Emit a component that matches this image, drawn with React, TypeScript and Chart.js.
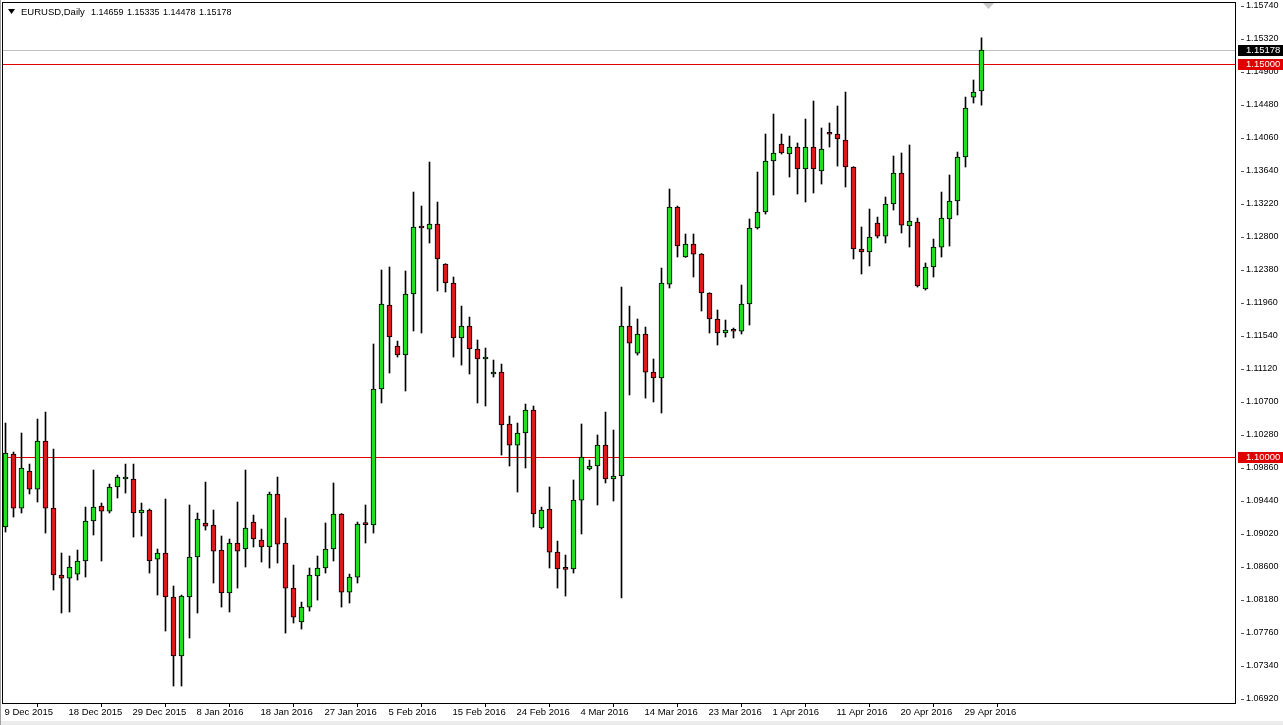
import React, { useEffect, useRef } from "react";
import { Chart, registerables } from "chart.js";

Chart.register(...registerables);

const symbolTitle = "EURUSD,Daily";

const dateTickLabels = [
  "9 Dec 2015", "18 Dec 2015", "29 Dec 2015", "8 Jan 2016", "18 Jan 2016", "27 Jan 2016",
  "5 Feb 2016", "15 Feb 2016", "24 Feb 2016", "4 Mar 2016", "14 Mar 2016", "23 Mar 2016",
  "1 Apr 2016", "11 Apr 2016", "20 Apr 2016", "29 Apr 2016",
];
const barsPerDateTick = 8;

const priceTicks = [
  1.0692, 1.0734, 1.0776, 1.0818, 1.086, 1.0902, 1.0944, 1.0986, 1.1028, 1.107, 1.1112,
  1.1154, 1.1196, 1.1238, 1.128, 1.1322, 1.1364, 1.1406, 1.1448, 1.149, 1.1532, 1.1574,
];

const levelLines = [1.15, 1.1];

const opens = [
  1.09109, 1.10038, 1.0935, 1.09821, 1.09592, 1.10203, 1.0935, 1.08498, 1.08459, 1.0851,
  1.08676, 1.09185, 1.09376, 1.09312, 1.09618, 1.0972, 1.0972, 1.09287, 1.09325, 1.08701,
  1.08778, 1.08218, 1.07467, 1.08218, 1.08727, 1.0916, 1.09134, 1.08816, 1.08269, 1.08905,
  1.08829, 1.09172, 1.08943, 1.08854, 1.09529, 1.08905, 1.08332, 1.079, 1.0809, 1.08485,
  1.08587, 1.08829, 1.09274, 1.08281, 1.08472, 1.09147, 1.09134, 1.10865, 1.11934, 1.11412,
  1.11298, 1.12074, 1.1294, 1.12901, 1.12965, 1.12456, 1.12214, 1.11514, 1.11667, 1.11374,
  1.11247, 1.11056, 1.11081, 1.1042, 1.10152, 1.10305, 1.10598, 1.09096, 1.09338, 1.0879,
  1.08574, 1.08574, 1.09452, 1.09847, 1.09885, 1.10152, 1.0972, 1.09758, 1.11667, 1.11323,
  1.11565, 1.11081, 1.11005, 1.12201, 1.13181, 1.12545, 1.12711, 1.12583, 1.12087, 1.11756,
  1.11578, 1.11603, 1.11603, 1.11947, 1.12914, 1.13118, 1.13767, 1.13983, 1.13856, 1.13945,
  1.13665, 1.13945, 1.1364, 1.14111, 1.14111, 1.14034, 1.13691, 1.12647, 1.12609, 1.12978,
  1.12812, 1.1322, 1.13614, 1.1294, 1.1299, 1.12138, 1.12418, 1.12672, 1.13029, 1.13258,
  1.13818, 1.14581, 1.14659,
];

const highs = [
  1.10432, 1.10063, 1.10305, 1.0991, 1.10483, 1.10572, 1.10101, 1.08778, 1.0874, 1.08816,
  1.09363, 1.09834, 1.09414, 1.09656, 1.0977, 1.0991, 1.0991, 1.09414, 1.09338, 1.08829,
  1.09465, 1.08358, 1.08243, 1.09389, 1.09287, 1.09681, 1.09325, 1.08994, 1.08956, 1.09427,
  1.09834, 1.09261, 1.09083, 1.09554, 1.09745, 1.09223, 1.08625, 1.08154, 1.08587, 1.0874,
  1.0916, 1.09669, 1.0928, 1.0851, 1.09172, 1.09389, 1.11438, 1.1238, 1.12418, 1.11476,
  1.12367, 1.13372, 1.13194, 1.13754, 1.13245, 1.1246, 1.12291, 1.11921, 1.11781, 1.11489,
  1.11387, 1.11234, 1.11183, 1.10521, 1.10432, 1.10674, 1.10649, 1.09363, 1.09618, 1.0893,
  1.08752, 1.09707, 1.1042, 1.09961, 1.1028, 1.10572, 1.10343, 1.12163, 1.11921, 1.11756,
  1.11654, 1.11247, 1.12405, 1.13411, 1.13194, 1.12838, 1.12838, 1.1259, 1.1209, 1.11871,
  1.11743, 1.11641, 1.12189, 1.13029, 1.13627, 1.14111, 1.14365, 1.14111, 1.14085, 1.13996,
  1.14301, 1.14531, 1.14187, 1.14251, 1.14467, 1.14645, 1.13695, 1.12927, 1.13156, 1.13054,
  1.13309, 1.13831, 1.13869, 1.13971, 1.13041, 1.12469, 1.12774, 1.13372, 1.13589, 1.13881,
  1.14581, 1.14798, 1.15335,
];

const lows = [
  1.09045, 1.09236, 1.09287, 1.09529, 1.09427, 1.09032, 1.08307, 1.08014, 1.08027, 1.08434,
  1.08472, 1.09007, 1.08676, 1.09287, 1.09478, 1.09541, 1.08981, 1.08994, 1.08523, 1.08243,
  1.07785, 1.07085, 1.07085, 1.07696, 1.08014, 1.0907, 1.08396, 1.0809, 1.08027, 1.08332,
  1.086, 1.08854, 1.08663, 1.08587, 1.0865, 1.07759, 1.07887, 1.0781, 1.08039, 1.08179,
  1.08523, 1.08676, 1.0809, 1.08141, 1.08396, 1.08905, 1.09032, 1.10687, 1.11069, 1.11272,
  1.1084, 1.11603, 1.11578, 1.12723, 1.12112, 1.121, 1.11272, 1.1117, 1.11056, 1.10687,
  1.10649, 1.11018, 1.10025, 1.09885, 1.09554, 1.0986, 1.09109, 1.09083, 1.08587, 1.08332,
  1.0823, 1.08523, 1.0902, 1.09834, 1.09389, 1.09669, 1.0944, 1.08205, 1.10789, 1.11298,
  1.1075, 1.107, 1.1056, 1.12151, 1.12545, 1.1254, 1.12291, 1.11858, 1.11578, 1.11425,
  1.11527, 1.11514, 1.11565, 1.1168, 1.12901, 1.13092, 1.13334, 1.13856, 1.13563, 1.13347,
  1.13245, 1.1336, 1.13474, 1.13945, 1.13703, 1.13436, 1.1252, 1.12329, 1.12431, 1.12787,
  1.12723, 1.13143, 1.12851, 1.12672, 1.12163, 1.12125, 1.12291, 1.12545, 1.12685, 1.1308,
  1.13691, 1.14505, 1.14478,
];

const closes = [
  1.1005, 1.0935, 1.0986, 1.09592, 1.10203, 1.0935, 1.08498, 1.08459, 1.086, 1.08676,
  1.09185, 1.09363, 1.09312, 1.09618, 1.09745, 1.09722, 1.09287, 1.09325, 1.08676, 1.08778,
  1.08218, 1.07467, 1.0823, 1.08727, 1.0921, 1.09121, 1.08803, 1.08269, 1.08905, 1.08803,
  1.09096, 1.08956, 1.08854, 1.09529, 1.08892, 1.08332, 1.07963, 1.0809, 1.08498, 1.08587,
  1.08829, 1.09274, 1.08281, 1.08472, 1.09147, 1.0914, 1.10865, 1.11947, 1.11527, 1.11298,
  1.12074, 1.12927, 1.12914, 1.12965, 1.1252, 1.12214, 1.11514, 1.11667, 1.11374, 1.11247,
  1.11272, 1.11081, 1.10407, 1.10152, 1.10305, 1.10598, 1.09274, 1.09325, 1.0879, 1.08574,
  1.0857, 1.09452, 1.1, 1.09885, 1.10152, 1.0972, 1.09758, 1.11667, 1.1145, 1.11565,
  1.11081, 1.11005, 1.12214, 1.13181, 1.12685, 1.12711, 1.12583, 1.12087, 1.11756, 1.11578,
  1.11616, 1.116, 1.11947, 1.12914, 1.13118, 1.13767, 1.13869, 1.13869, 1.13945, 1.13665,
  1.13945, 1.13665, 1.1392, 1.14108, 1.14047, 1.13691, 1.12647, 1.12609, 1.128, 1.12812,
  1.1322, 1.13614, 1.12952, 1.13003, 1.12176, 1.12418, 1.12672, 1.13041, 1.13258, 1.13818,
  1.14441, 1.14645, 1.15178,
];

const BULL = "#22dd22";
const BEAR = "#dd1a1a";
const LEVEL = "#e00000";
const FONT_FAMILY = "'Liberation Sans', Arial, sans-serif";

const W = 1283;
const H = 725;
const X_MIN = -0.3125;
const X_MAX = X_MIN + 154;
const Y_MIN = 1.068691;
const Y_MAX = 1.157782;

const decorPlugin = {
  id: "decor",
  beforeDraw(chart: any) {
    const { ctx, width, height } = chart;
    ctx.save();
    ctx.fillStyle = "#ffffff";
    ctx.fillRect(0, 0, width, height);
    ctx.fillStyle = "#ececec";
    ctx.fillRect(0, 721, width, height - 721);
    ctx.fillStyle = "#a0a0a0";
    ctx.fillRect(0, 0, 1, height);
    ctx.restore();
  },
  beforeDatasetsDraw(chart: any) {
    const { ctx, chartArea: a, scales } = chart;
    const y = scales.y;
    ctx.save();
    ctx.lineWidth = 1;
    const last = closes[closes.length - 1];
    const by = Math.round(y.getPixelForValue(last)) + 0.5;
    ctx.strokeStyle = "#c0c0c0";
    ctx.beginPath();
    ctx.moveTo(a.left, by);
    ctx.lineTo(a.right, by);
    ctx.stroke();
    levelLines.forEach((v) => {
      const py = Math.round(y.getPixelForValue(v)) + 0.5;
      ctx.strokeStyle = LEVEL;
      ctx.beginPath();
      ctx.moveTo(a.left, py);
      ctx.lineTo(a.right, py);
      ctx.stroke();
    });
    ctx.restore();
  },
  afterDraw(chart: any) {
    const { ctx, chartArea: a, scales } = chart;
    const y = scales.y;
    ctx.save();
    // frame
    ctx.strokeStyle = "#000";
    ctx.lineWidth = 1;
    ctx.strokeRect(a.left - 0.5, a.top - 0.5, a.right - a.left + 1, a.bottom - a.top + 1);
    // y tick dashes
    ctx.strokeStyle = "#555";
    priceTicks.forEach((v) => {
      const py = Math.round(y.getPixelForValue(v)) + 0.5;
      ctx.beginPath();
      ctx.moveTo(a.right + 6, py);
      ctx.lineTo(a.right + 9, py);
      ctx.stroke();
    });
    // price boxes
    ctx.font = `9.5px ${FONT_FAMILY}`;
    ctx.textBaseline = "middle";
    ctx.textAlign = "left";
    const box = (v: number, bg: string) => {
      const py = Math.round(y.getPixelForValue(v));
      ctx.fillStyle = bg;
      ctx.fillRect(a.right + 3, py - 5, W - a.right - 3, 11);
      ctx.fillStyle = "#ffffff";
      ctx.fillText(v.toFixed(5), a.right + 11, py + 0.5);
    };
    levelLines.forEach((v) => box(v, LEVEL));
    box(closes[closes.length - 1], "#000000");
    // title
    ctx.fillStyle = "#000";
    ctx.beginPath();
    ctx.moveTo(8, 9);
    ctx.lineTo(15, 9);
    ctx.lineTo(11.5, 14);
    ctx.closePath();
    ctx.fill();
    const n = opens.length - 1;
    ctx.font = `9.5px ${FONT_FAMILY}`;
    ctx.fillText(symbolTitle, 21, 12.5);
    ctx.font = `9px ${FONT_FAMILY}`;
    const vals = [opens[n], highs[n], lows[n], closes[n]];
    vals.forEach((v, k) => ctx.fillText(v.toFixed(5), 91 + k * 36, 12.5));
    // chart shift marker
    ctx.fillStyle = "#c8c8c8";
    ctx.beginPath();
    ctx.moveTo(983, a.top);
    ctx.lineTo(994, a.top);
    ctx.lineTo(988.5, a.top + 6);
    ctx.closePath();
    ctx.fill();
    ctx.restore();
  },
};

export default function App() {
  const ref = useRef<HTMLCanvasElement | null>(null);

  useEffect(() => {
    document.body.style.margin = "0";
    const canvas = ref.current;
    if (!canvas) return;

    const bodies = opens.map((o, i) => ({ x: i, y: [o, closes[i]] }));
    const wicks = lows.map((l, i) => ({ x: i, y: [l, highs[i]] }));
    const bodyColors = opens.map((o, i) => (closes[i] > o ? BULL : BEAR));

    const chart = new Chart(canvas, {
      type: "bar",
      data: {
        datasets: [
          {
            label: "body",
            data: bodies as any,
            backgroundColor: bodyColors,
            borderColor: "#000000",
            borderWidth: 1,
            borderSkipped: false,
            barThickness: 5,
            minBarLength: 2,
            grouped: false,
          } as any,
          {
            label: "wick",
            data: wicks as any,
            backgroundColor: "#000000",
            borderWidth: 0,
            barThickness: 1,
            grouped: false,
          } as any,
        ],
      },
      options: {
        animation: false,
        responsive: false,
        maintainAspectRatio: false,
        layout: { padding: { left: 3, top: 3, right: 0, bottom: 0 } },
        plugins: { legend: { display: false }, tooltip: { enabled: false } },
        scales: {
          x: {
            type: "linear",
            min: X_MIN,
            max: X_MAX,
            offset: false,
            border: { display: false },
            grid: { drawOnChartArea: false, drawTicks: true, tickLength: 4, color: "#000" },
            afterBuildTicks: (s: any) => {
              s.ticks = dateTickLabels.map((_, k) => ({ value: k * barsPerDateTick }));
            },
            afterFit: (s: any) => {
              s.height = 22;
              s.paddingLeft = 0;
              s.paddingRight = 0;
            },
            ticks: {
              autoSkip: false,
              maxRotation: 0,
              minRotation: 0,
              align: "start",
              padding: 0,
              labelOffset: -1,
              color: "#000",
              font: { family: FONT_FAMILY, size: 9.5 },
              callback: (_v: any, i: number) => dateTickLabels[i] ?? "",
            },
          },
          y: {
            type: "linear",
            position: "right",
            min: Y_MIN,
            max: Y_MAX,
            border: { display: false },
            grid: { drawOnChartArea: false, drawTicks: false },
            afterBuildTicks: (s: any) => {
              s.ticks = priceTicks.map((v) => ({ value: v }));
            },
            afterFit: (s: any) => {
              s.width = 48;
              s.paddingTop = 0;
              s.paddingBottom = 0;
            },
            ticks: {
              autoSkip: false,
              padding: 11,
              color: "#000",
              font: { family: FONT_FAMILY, size: 9 },
              callback: (v: any) => Number(v).toFixed(5),
            },
          },
        },
      } as any,
      plugins: [decorPlugin],
    });

    return () => chart.destroy();
  }, []);

  return (
    <canvas
      ref={ref}
      width={W}
      height={H}
      style={{ display: "block", width: W, height: H }}
    />
  );
}
